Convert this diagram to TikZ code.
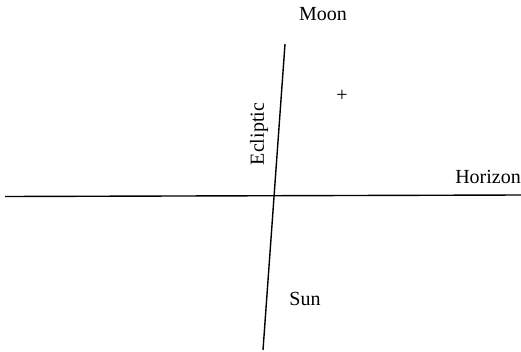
\documentclass[tikz,border=0pt]{standalone}
\usepackage{fontspec}
\setmainfont{Liberation Serif}
\usepackage{tikz}
\usetikzlibrary{calc, positioning}

\tikzset{
  lbl/.style={inner sep=0pt, font=\fontsize{20}{22}\selectfont},
  axisline/.style={line width=1.4pt, black}
}

\begin{document}
\begin{tikzpicture}[x=1pt,y=-1pt]
\useasboundingbox (0,0) rectangle (521,351);

% Lines
\coordinate (ecltop) at (285,44);
\coordinate (eclbot) at (263,350);
\coordinate (horleft) at (5,196.5);
\coordinate (horright) at (521,195);
\draw[axisline] (ecltop) -- (eclbot);
\draw[axisline] (horleft) -- (horright);

% Labels
\node[lbl] (moon) at (323,14) {Moon};
\node[lbl] (mark) at (342,96) {+};
\node[lbl] (sun) at (305,299) {Sun};
\node[lbl, anchor=base east] (horizon) at (521,183) {Horizon};
\node[lbl, rotate=90] (ecliptic) at (259,134) {Ecliptic};

\end{tikzpicture}
\end{document}
